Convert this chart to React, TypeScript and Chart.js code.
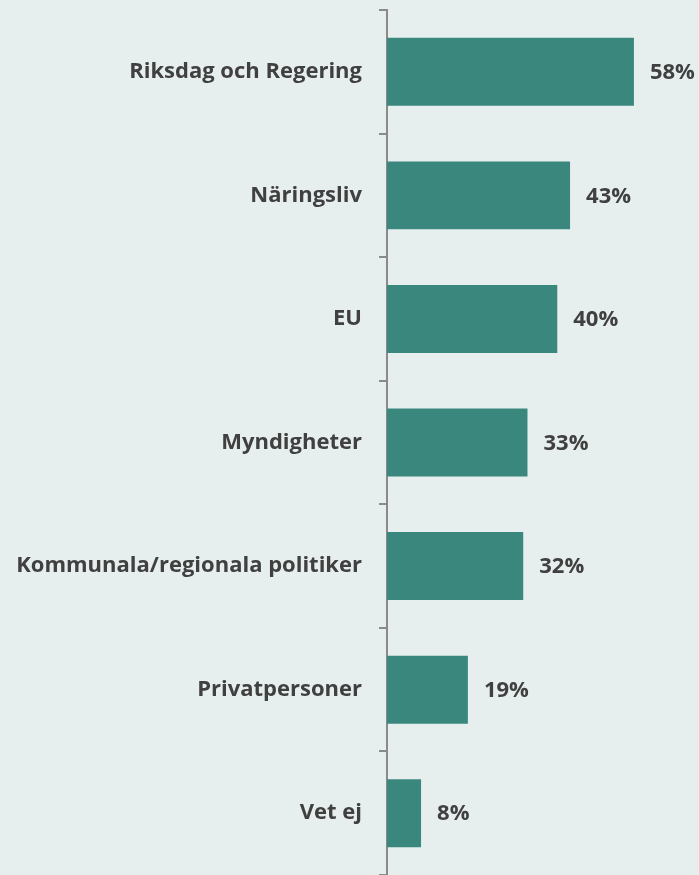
import React, { useEffect, useRef } from "react";
import { Chart, registerables } from "chart.js";

Chart.register(...registerables);

const categories = [
  "Riksdag och Regering",
  "Näringsliv",
  "EU",
  "Myndigheter",
  "Kommunala/regionala politiker",
  "Privatpersoner",
  "Vet ej",
];
const values = [58, 43, 40, 33, 32, 19, 8];

const BG = "#e7efee";
const BAR = "#3a877e";
const TEXT = "#404040";
const FONT = "'Open Sans'";

const bgPlugin = {
  id: "bg",
  beforeDraw(chart: any) {
    const { ctx, width, height } = chart;
    ctx.save();
    ctx.fillStyle = BG;
    ctx.fillRect(0, 0, width, height);
    ctx.restore();
  },
};

const labelPlugin = {
  id: "valueLabels",
  afterDatasetsDraw(chart: any) {
    const { ctx } = chart;
    const meta = chart.getDatasetMeta(0);
    ctx.save();
    ctx.fillStyle = TEXT;
    ctx.font = `bold 22px ${FONT}`;
    ctx.textAlign = "left";
    ctx.textBaseline = "middle";
    meta.data.forEach((bar: any, i: number) => {
      ctx.fillText(values[i] + "%", bar.x + 16, bar.y + 1);
    });
    ctx.restore();
  },
};

export default function App() {
  const ref = useRef<HTMLCanvasElement>(null);
  useEffect(() => {
    document.body.style.margin = "0";
    const chart = new Chart(ref.current!, {
      type: "bar",
      data: {
        labels: categories,
        datasets: [
          {
            data: values,
            backgroundColor: BAR,
            borderWidth: 0,
            categoryPercentage: 1,
            barPercentage: 0.55,
          },
        ],
      },
      options: {
        indexAxis: "y",
        responsive: false,
        animation: false,
        layout: { padding: { top: 10, right: 14, bottom: 0, left: 0 } },
        plugins: { legend: { display: false }, tooltip: { enabled: false } },
        scales: {
          x: { display: false, min: 0, max: 70 },
          y: {
            afterFit(scale: any) {
              scale.width = 387;
              scale.paddingTop = 0;
              scale.paddingBottom = 0;
            },
            grid: {
              drawOnChartArea: false,
              drawTicks: true,
              tickLength: 8,
              color: "#8a8a8a",
              lineWidth: 2,
              offset: true,
            },
            border: { display: true, color: "#8a8a8a", width: 2 },
            ticks: {
              color: TEXT,
              padding: 17,
              font: { family: "Open Sans", size: 22, weight: "bold" },
            },
          },
        },
      },
      plugins: [bgPlugin, labelPlugin],
    });
    return () => chart.destroy();
  }, []);
  return (
    <div style={{ position: "absolute", left: 0, top: 0, width: 699, height: 875, background: BG }}>
      <canvas ref={ref} width={699} height={875} />
    </div>
  );
}
